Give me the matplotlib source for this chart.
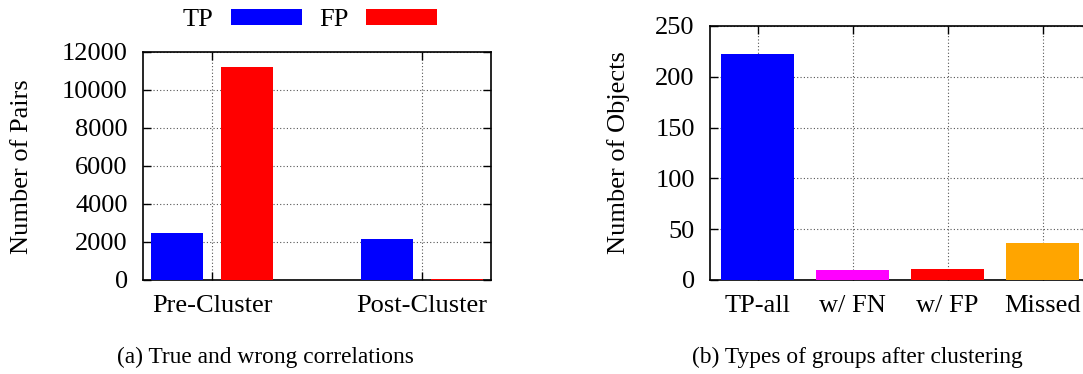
import matplotlib
matplotlib.use("Agg")
import matplotlib.pyplot as plt
import numpy as np

# Data
left_categories = ["Pre-Cluster", "Post-Cluster"]
tp_values = [2480, 2180]
fp_values = [11200, 60]
left_yticks = [0, 2000, 4000, 6000, 8000, 10000, 12000]

right_categories = ["TP-all", "w/ FN", "w/ FP", "Missed"]
right_values = [222, 10, 11, 36]
right_colors = ["#0000ff", "#ff00ff", "#ff0000", "#ffa500"]
right_yticks = [0, 50, 100, 150, 200, 250]

plt.rcParams['font.family'] = ['Liberation Serif', 'DejaVu Serif']
plt.rcParams['mathtext.fontset'] = 'stix'

W, H = 1083, 374
fig = plt.figure(figsize=(W / 100, H / 100), dpi=100)

def ax_at(x0, y0, x1, y1):
    return fig.add_axes([x0 / W, 1 - y1 / H, (x1 - x0) / W, (y1 - y0) / H])

FS = 19

def style(ax):
    ax.tick_params(direction='in', top=True, right=True, length=6, width=1,
                   labelsize=FS)
    ax.tick_params(axis='y', pad=11)
    ax.tick_params(axis='x', pad=11)
    ax.grid(True, linestyle=(0, (1, 2)), color='#555555', linewidth=0.8)
    ax.set_axisbelow(True)
    for s in ax.spines.values():
        s.set_linewidth(1.2)

# Left panel
axL = ax_at(143, 52, 491, 280)
x = np.arange(len(left_categories))
bw = 0.25
off = 0.167
b1 = axL.bar(x - off, tp_values, bw, color='#0000ff', label='TP', zorder=3)
b2 = axL.bar(x + off, fp_values, bw, color='#ff0000', label='FP', zorder=3)
axL.set_xlim(-0.33, 1.33)
axL.set_ylim(0, 12000)
axL.set_yticks(left_yticks)
axL.set_xticks(x)
axL.set_xticklabels(left_categories)
style(axL)
axL.set_ylabel("Number of Pairs", fontsize=19)
axL.yaxis.set_label_coords((33 - 143) / 348, (280 - 167) / 228)
fig.legend(handles=[b1, b2], labels=['TP', 'FP'], loc='center',
           bbox_to_anchor=(310 / W, 1 - 20 / H), ncol=2, frameon=False,
           fontsize=FS, markerfirst=False, handlelength=2.7, handleheight=0.6,
           columnspacing=0.65, handletextpad=0.65, borderpad=0, borderaxespad=0)

# Right panel
axR = ax_at(710, 26, 1090, 280)
xr = np.arange(len(right_categories))
axR.bar(xr, right_values, 0.76, color=right_colors, zorder=3)
axR.set_xlim(-0.5, 3.5)
axR.set_ylim(0, 250)
axR.set_yticks(right_yticks)
axR.set_xticks(xr)
axR.set_xticklabels(right_categories)
style(axR)
axR.set_ylabel("Number of Objects", fontsize=19)
axR.yaxis.set_label_coords((630 - 710) / 380, 0.5)

# Captions
fig.text(265 / W, 1 - 357 / H, "(a) True and wrong correlations", ha='center',
         va='center', fontsize=16.8)
fig.text(857 / W, 1 - 357 / H, "(b) Types of groups after clustering", ha='center',
         va='center', fontsize=16.8)

fig.savefig("out.png", dpi=100)
